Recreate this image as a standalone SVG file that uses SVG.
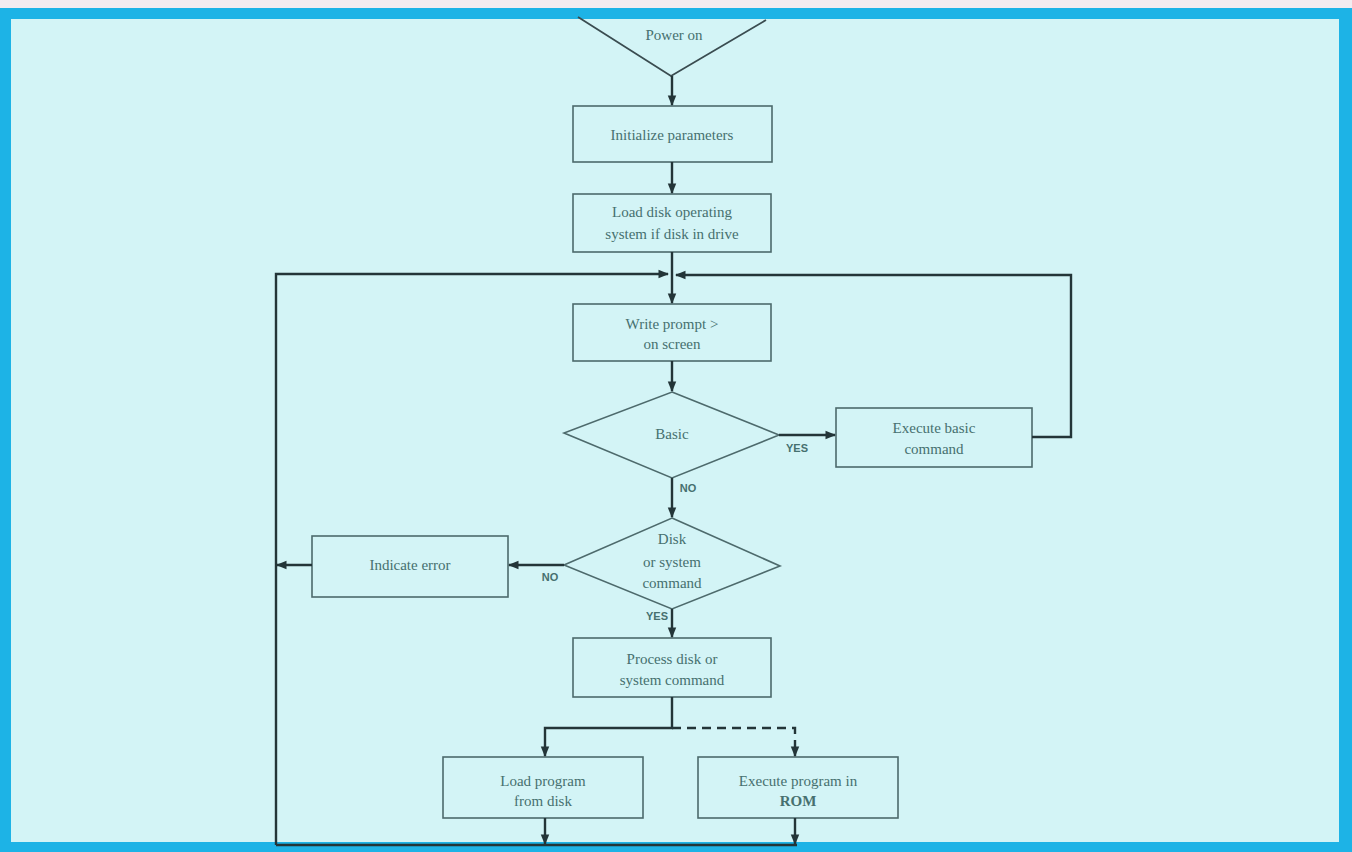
<svg xmlns="http://www.w3.org/2000/svg" width="1352" height="852" viewBox="0 0 1352 852">
<defs>
<marker id="ah" viewBox="0 0 10 10" refX="9" refY="5" markerWidth="4.4" markerHeight="4.4" orient="auto" markerUnits="strokeWidth">
<path d="M0,1 L10,5 L0,9 z" fill="#233538"/>
</marker>
</defs>
<style>
.bx{fill:none;stroke:#4d6a6c;stroke-width:1.6}
.t{font-family:"Liberation Serif","Times New Roman",serif;font-size:15px;fill:#46706f;text-anchor:middle}
.lb{font-family:"Liberation Sans",Arial,sans-serif;font-size:11px;font-weight:bold;fill:#46706f;text-anchor:middle}
.c{fill:none;stroke:#233538;stroke-width:2.4}
.ca{fill:none;stroke:#233538;stroke-width:2.4;marker-end:url(#ah)}
</style>
<rect x="0" y="0" width="1352" height="852" fill="#f2ecf0"/>
<rect x="0" y="8" width="1352" height="844" fill="#1db3e6"/>
<rect x="11" y="19" width="1328" height="823" fill="#d3f4f6"/>

<g id="power-on">
<path d="M578,17 L671,76 L766,20" fill="none" stroke="#3a4c50" stroke-width="1.8"/>
<text class="t" x="674" y="40">Power on</text>
</g>
<g id="init">
<rect class="bx" x="573" y="106" width="199" height="56"/>
<text class="t" x="672" y="140">Initialize parameters</text>
</g>
<g id="load-dos">
<rect class="bx" x="573" y="194" width="198" height="58"/>
<text class="t" x="672" y="217">Load disk operating</text>
<text class="t" x="672" y="239">system if disk in drive</text>
</g>
<g id="write-prompt">
<rect class="bx" x="573" y="304" width="198" height="57"/>
<text class="t" x="672" y="329">Write prompt &gt;</text>
<text class="t" x="672" y="349">on screen</text>
</g>
<g id="basic">
<path class="bx" d="M672,392 L779,435 L672,478 L564,433 z"/>
<text class="t" x="672" y="439">Basic</text>
</g>
<g id="exec-basic">
<rect class="bx" x="836" y="408" width="196" height="59"/>
<text class="t" x="934" y="433">Execute basic</text>
<text class="t" x="934" y="454">command</text>
</g>
<g id="disk-cmd">
<path class="bx" d="M672,518 L780,566 L672,609 L564,565 z"/>
<text class="t" x="672" y="544">Disk</text>
<text class="t" x="672" y="567">or system</text>
<text class="t" x="672" y="588">command</text>
</g>
<g id="indicate-error">
<rect class="bx" x="312" y="536" width="196" height="61"/>
<text class="t" x="410" y="570">Indicate error</text>
</g>
<g id="process">
<rect class="bx" x="573" y="638" width="198" height="59"/>
<text class="t" x="672" y="664">Process disk or</text>
<text class="t" x="672" y="685">system command</text>
</g>
<g id="load-program">
<rect class="bx" x="443" y="757" width="200" height="61"/>
<text class="t" x="543" y="786">Load program</text>
<text class="t" x="543" y="806">from disk</text>
</g>
<g id="exec-rom">
<rect class="bx" x="698" y="757" width="200" height="61"/>
<text class="t" x="798" y="786">Execute program in</text>
<text class="t" x="798" y="806" font-weight="bold">ROM</text>
</g>

<g id="connectors">
<path class="ca" d="M672,76 L672,105"/>
<path class="ca" d="M672,162 L672,193"/>
<path class="ca" d="M672,252 L672,303"/>
<path class="ca" d="M276,845 L276,274 L668,274"/>
<path class="ca" d="M1032,437 L1071,437 L1071,275 L676,275"/>
<path class="ca" d="M672,361 L672,391"/>
<path class="ca" d="M779,435 L835,435"/>
<path class="ca" d="M672,478 L672,517"/>
<path class="ca" d="M564,565 L509,565"/>
<path class="ca" d="M312,565 L277,565"/>
<path class="ca" d="M672,609 L672,637"/>
<path class="ca" d="M672,697 L672,728 L545,728 L545,756"/>
<path class="c" d="M672,728 L795,728 L795,740" stroke-dasharray="9,6"/>
<path class="ca" d="M795,740 L795,756"/>
<path class="ca" d="M545,818 L545,844"/>
<path class="ca" d="M795,818 L795,844"/>
<path class="c" d="M276,845 L797,845"/>
</g>
<text class="lb" x="797" y="452">YES</text>
<text class="lb" x="688" y="492">NO</text>
<text class="lb" x="550" y="581">NO</text>
<text class="lb" x="657" y="620">YES</text>
</svg>
